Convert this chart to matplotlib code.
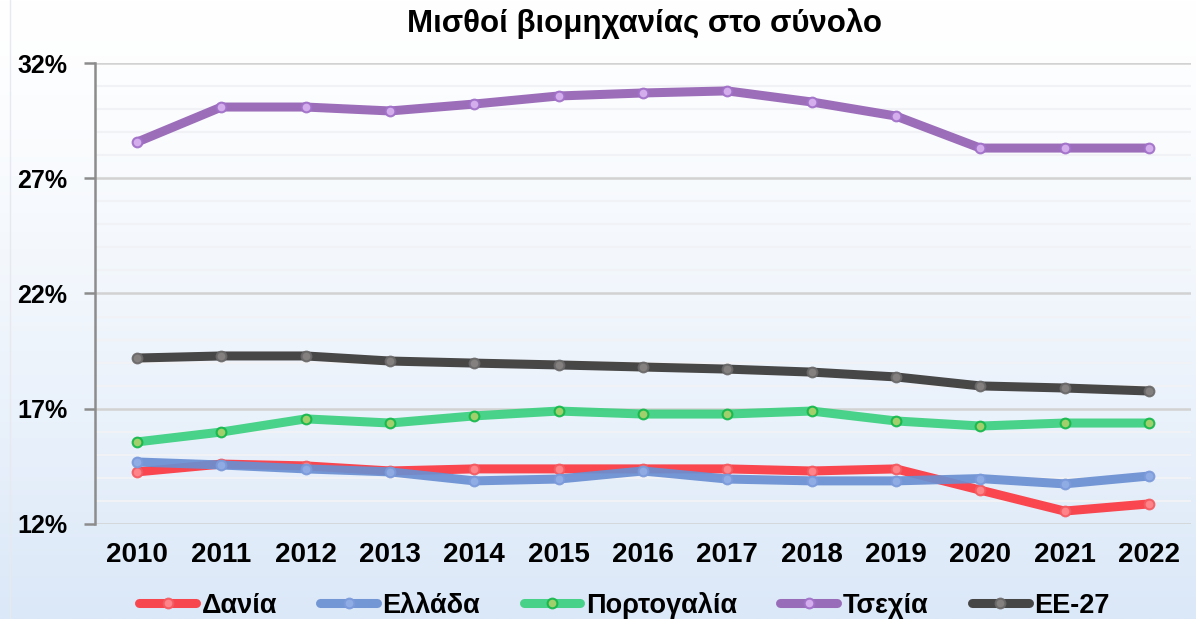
import numpy as np
import matplotlib
matplotlib.use('Agg')
import matplotlib.pyplot as plt
from matplotlib.ticker import FuncFormatter
from matplotlib.lines import Line2D

plt.rcParams['font.family'] = ['Liberation Sans', 'DejaVu Sans']

# Data (in %)
years = list(range(2010, 2023))
denmark = [14.26, 14.60, 14.52, 14.30, 14.39, 14.39, 14.39, 14.39, 14.30, 14.39, 13.47, 12.56, 12.87]
greece = [14.69, 14.56, 14.39, 14.26, 13.87, 13.95, 14.30, 13.95, 13.87, 13.87, 13.97, 13.74, 14.08]
portugal = [15.56, 15.99, 16.56, 16.38, 16.69, 16.90, 16.77, 16.77, 16.90, 16.47, 16.25, 16.38, 16.38]
czechia = [28.57, 30.09, 30.09, 29.92, 30.22, 30.57, 30.70, 30.79, 30.31, 29.70, 28.31, 28.31, 28.31]
eu27 = [19.20, 19.29, 19.29, 19.07, 18.98, 18.90, 18.81, 18.72, 18.59, 18.38, 17.99, 17.90, 17.77]

labels = ['Δανία', 'Ελλάδα', 'Πορτογαλία', 'Τσεχία', 'ΕΕ-27']
series = [denmark, greece, portugal, czechia, eu27]
line_colors = ['#fb3840', '#6a8fd2', '#3bd07f', '#9462b4', '#3a3837']
face_colors = ['#ff8a90', '#93aee6', '#a8cf6a', '#d9b3f2', '#8a8686']
edge_colors = ['#f45a60', '#7b9ada', '#14b84c', '#a070c8', '#6a6868']

fig = plt.figure(figsize=(11.96, 6.19), dpi=100)

# gradient background
bg = fig.add_axes([0, 0, 1, 1], zorder=-10)
grad = np.linspace(0, 1, 256).reshape(-1, 1)
top = np.array([1.0, 1.0, 1.0])
bottom = np.array([0xdb, 0xe8, 0xf8]) / 255
img = top + (bottom - top) * grad[..., None] ** 1.3
bg.imshow(img, aspect='auto', extent=[0, 1, 0, 1], origin='upper')
bg.axis('off')
fig.add_artist(Line2D([0.0085, 0.0085], [0, 1], color='#e6e9ee', lw=1))

ax = fig.add_axes([0.0794, 0.1535, 0.9164, 0.7447])
ax.set_facecolor('none')

for vals, lab, lc, fc, ec in zip(series, labels, line_colors, face_colors, edge_colors):
    ax.plot(years, vals, color=lc, lw=6.5, alpha=0.92, solid_capstyle='round',
            solid_joinstyle='round', marker='o', ms=7, mfc=fc, mec=ec, mew=1.5,
            label=lab, zorder=3)

ax.set_xlim(2009.5, 2022.5)
ax.set_ylim(12, 32)
ax.set_yticks(np.arange(12, 33, 5))
ax.set_yticks(np.arange(12, 33, 1), minor=True)
ax.yaxis.set_major_formatter(FuncFormatter(lambda v, p: f'{v:.0f}%'))
ax.set_xticks(years)

ax.grid(axis='y', which='major', color='#d2d2d2', lw=1.8, zorder=0)
ax.grid(axis='y', which='minor', color='#f1f2f5', lw=1.5, zorder=0)
ax.set_axisbelow(True)

for s in ['top', 'right', 'bottom']:
    ax.spines[s].set_visible(False)
ax.spines['left'].set_color('#8c8c8c')
ax.spines['left'].set_linewidth(1.8)

ax.tick_params(axis='y', which='major', length=8, width=1.8, color='#8c8c8c',
               labelsize=18, pad=12)
ax.tick_params(axis='y', which='minor', length=0)
ax.tick_params(axis='x', length=0, labelsize=20, pad=13)
for t in ax.get_xticklabels() + ax.get_yticklabels():
    t.set_fontweight('bold')

fig.text(0.539, 0.962, 'Μισθοί βιομηχανίας στο σύνολο', ha='center', va='center',
         fontsize=22.5, fontweight='bold')

leg = fig.legend(loc='center', bbox_to_anchor=(0.522, 0.022), ncol=5, frameon=False,
                 prop={'size': 19.5, 'weight': 'bold'}, handlelength=2.1,
                 handletextpad=0.2, columnspacing=1.6, borderaxespad=0)

fig.savefig('out.png', dpi=100)
